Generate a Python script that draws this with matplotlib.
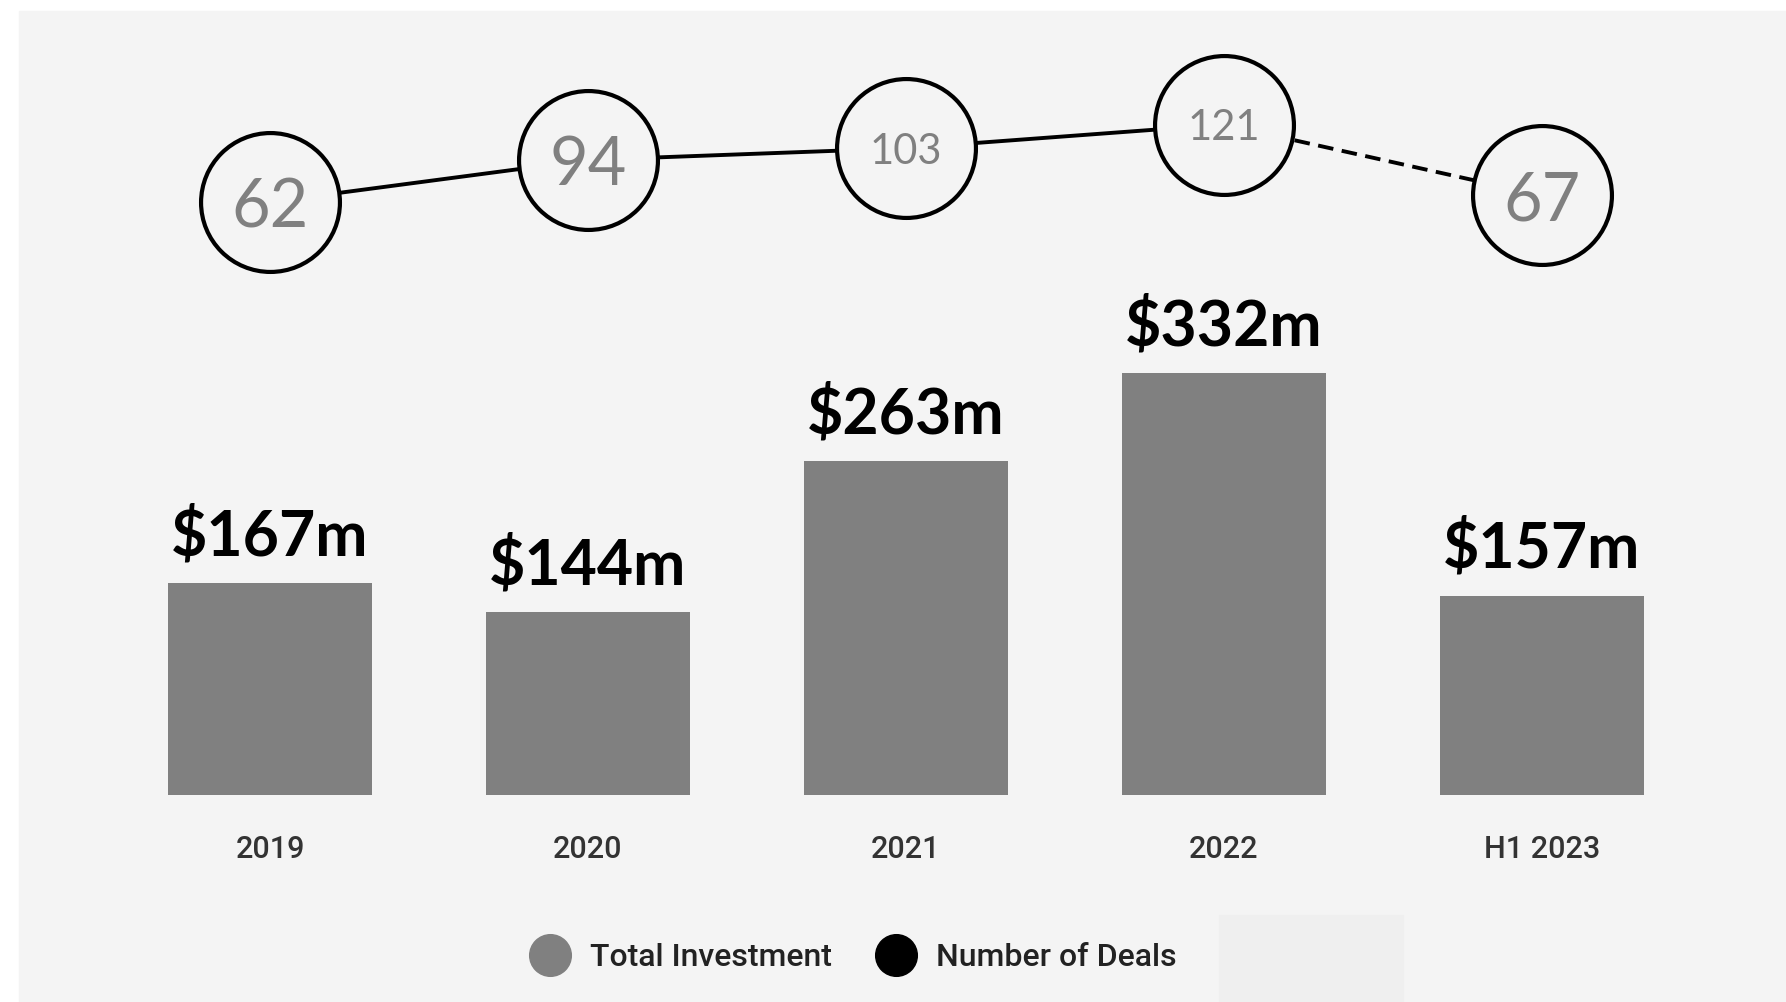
import matplotlib.pyplot as plt
from matplotlib.lines import Line2D
from matplotlib.patches import Rectangle

# Data
periods = ['2019', '2020', '2021', '2022', 'H1 2023']
investment = [167, 144, 263, 332, 157]      # $m
deals = [62, 94, 103, 121, 67]

W, H = 1786, 1002
fig = plt.figure(figsize=(W / 100, H / 100), dpi=100, facecolor='white')

# background panel
fig.patches.append(Rectangle((19 / W, 0), 1 - 19 / W, (H - 11) / H,
                             transform=fig.transFigure, color='#f4f4f4', zorder=-10))
fig.patches.append(Rectangle((1219 / W, 0), 184 / W, 87 / H,
                             transform=fig.transFigure, color='#efefef', zorder=-9))

# bars axis: baseline 795px from top
base = (H - 795) / H
ax = fig.add_axes([0, base, 1, 1 - base])
ax.set_facecolor('none')
x = list(range(len(periods)))
ax.set_xlim(-270 / 318, (W - 270) / 318)
ax.set_ylim(0, 795 / 1.27)

bars = ax.bar(x, investment, width=0.64, color='#808080', zorder=2)
for xi, v in zip(x, investment):
    ax.annotate(f'${v}m', (xi, v), xytext=(0, 12), textcoords='offset points',
                ha='center', va='bottom', fontsize=45, fontweight='bold',
                family='Lato', color='black')

# deals axis
ax2 = ax.twinx()
ax2.set_ylim(62 - 593 / 1.313, 62 + 202 / 1.313)
ax2.axis('off')
ax2.plot(x[:4], deals[:4], color='black', lw=2.8, zorder=1)
ax2.plot(x[3:], deals[3:], color='black', lw=2.8, ls=(0, (4, 2.2)), zorder=1)
ax2.scatter(x, deals, s=100 ** 2, facecolor='#f4f4f4', edgecolor='black',
            linewidth=3.0, zorder=3)
for xi, v in zip(x, deals):
    ax2.text(xi, v, str(v), ha='center', va='center_baseline',
             fontsize=48 if v < 100 else 30, family='Lato', color='#808080', zorder=4)

ax.set_xticks(x)
ax.set_xticklabels(periods, fontsize=22, family='Roboto', fontweight='medium', color='#333333')
ax.tick_params(axis='x', length=0, pad=29)
ax.set_yticks([])
for s in ax.spines.values():
    s.set_visible(False)

# legend
handles = [Line2D([], [], ls='none', marker='o', markersize=30, color='#808080'),
           Line2D([], [], ls='none', marker='o', markersize=30, color='black')]
leg = fig.legend(handles, ['Total Investment', 'Number of Deals'], loc='center',
                 bbox_to_anchor=(852 / W, 1 - 958 / H), ncol=2, frameon=False,
                 prop={'family': 'Roboto', 'size': 23, 'weight': 'medium'},
                 handlelength=1.4, handletextpad=0.55, columnspacing=1.3)
for t in leg.get_texts():
    t.set_color('#222222')

fig.savefig('out.png', dpi=100, facecolor='white')
